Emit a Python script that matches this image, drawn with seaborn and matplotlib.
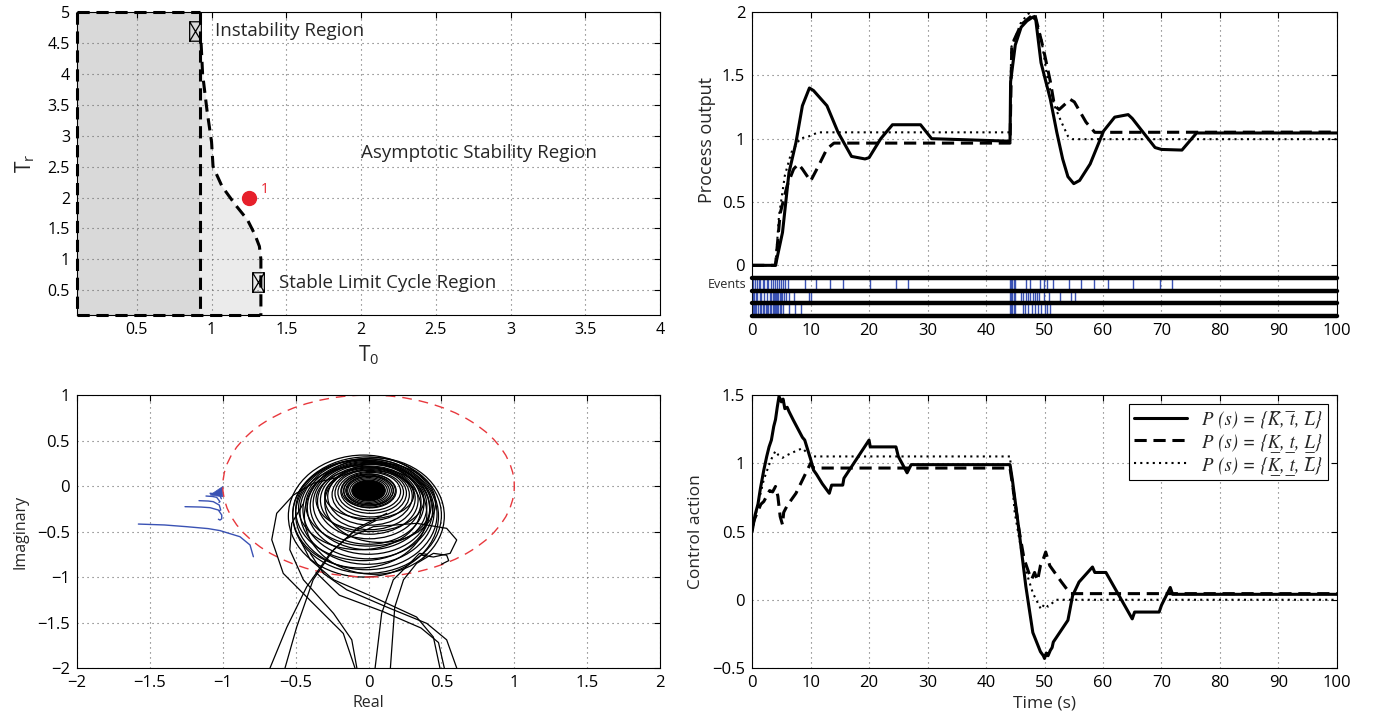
import numpy as np
import pandas as pd
import matplotlib
matplotlib.use("Agg")
import matplotlib.pyplot as plt
import matplotlib.transforms as mtransforms
from matplotlib.patches import Ellipse
from matplotlib.path import Path
import seaborn as sns

# ---------------- data: stability regions (T0, Tr) ----------------
region_tr = [5.0, 4.5, 4.0, 3.4, 2.9, 2.5, 2.18, 1.88, 1.64, 1.4, 1.21, 1.0, 0.1]
region_t0 = [0.925, 0.93, 0.94, 0.97, 1.0, 1.01, 1.07, 1.16, 1.24, 1.29, 1.32, 1.33, 1.33]
unstable_t0_max = 0.92
marker_t0 = [0.89, 1.31]
marker_tr = [4.69, 0.64]
point_t0 = [1.25]
point_tr = [2.0]

# ---------------- data: process output ----------------
y_solid_t = [0, 4.0, 5.2, 6.3, 7.5, 8.6, 9.8, 10.5, 12.8, 14.7, 17, 19.3, 20, 22, 24, 28.8, 30.7, 44.1,
             44.2, 45, 46, 47, 48, 48.5, 49.4, 51, 52.1, 53.1, 54, 55, 56, 57.8, 60.1, 62, 64.3, 65,
             68.9, 70, 73.5, 76, 100]
y_solid = [0, 0, 0.26, 0.73, 0.97, 1.26, 1.40, 1.38, 1.26, 1.05, 0.86, 0.84, 0.85, 1.0, 1.11, 1.11, 1.0, 0.98,
           1.45, 1.74, 1.88, 1.93, 1.96, 1.94, 1.6, 1.31, 1.05, 0.84, 0.7, 0.645, 0.67, 0.8, 1.06, 1.17, 1.19, 1.16,
           0.93, 0.915, 0.91, 1.045, 1.045]
y_dash_t = [0, 4.0, 4.8, 6.0, 7.1, 7.9, 8.6, 10, 11.3, 12.8, 14, 44.1, 44.4, 46, 48.3, 49.8, 51, 51.7, 52.5,
            54.4, 55.1, 57.1, 58.6, 100]
y_dash = [0, 0, 0.41, 0.63, 0.76, 0.80, 0.76, 0.665, 0.78, 0.92, 0.965, 0.965, 1.74, 1.9, 1.99, 1.71, 1.45,
          1.26, 1.23, 1.31, 1.29, 1.13, 1.05, 1.052]
y_dot_t = [0, 4.0, 4.6, 5.6, 6.7, 8.2, 9.8, 11.3, 44.1, 44.3, 46, 47.9, 49.4, 50.6, 51.7, 52.9, 54, 54.8, 100]
y_dot = [0, 0, 0.39, 0.71, 0.89, 1.0, 1.02, 1.05, 1.05, 1.72, 1.92, 2.02, 1.8, 1.45, 1.26, 1.13, 1.02, 0.996,
         0.996]

# events of the three loops
events_1 = [0.2, 0.5, 0.8, 1.1, 1.4, 1.8, 2.1, 2.5, 2.8, 3.2, 3.5, 3.9, 4.2, 4.6, 4.9, 5.3, 5.7, 6.2,
            9.0, 11.0, 13.3, 15.6, 20.2, 24.6, 26.7,
            44.1, 44.3, 44.5, 44.7, 44.9, 46.9, 47.5, 49.3, 49.9, 50.5, 51.5, 54.2, 56.2, 58.4, 60.8,
            65.2, 69.8, 71.8]
events_2 = [0.1, 0.3, 0.6, 0.9, 1.3, 1.6, 2.0, 2.6, 3.0, 3.3, 3.5, 3.7, 3.9, 4.1, 4.3, 4.5, 4.7, 4.9,
            5.1, 5.4, 5.8, 6.3, 7.1, 9.8, 10.1,
            44.1, 44.3, 44.5, 44.7, 44.9, 46.0, 46.4, 46.8, 47.2, 47.6, 48.0, 48.3, 48.7, 49.1, 49.9,
            50.7, 52.7, 54.5, 55.2]
events_3 = [0.1, 0.3, 0.5, 0.7, 1.0, 1.3, 1.5, 1.8, 2.0, 2.3, 2.6, 2.8, 3.1, 3.3, 3.5, 3.7, 3.9, 4.1,
            4.3, 4.5, 4.7, 4.9, 5.3, 6.3, 7.3, 8.3,
            44.1, 44.3, 44.5, 44.7, 44.9, 46.3, 46.7, 47.2, 47.8, 48.3, 48.9, 49.4, 50.0, 50.5, 51.0]
event_rows = [(-0.1, -0.2), (-0.2, -0.3), (-0.3, -0.4)]

# ---------------- data: control action ----------------
u_solid_t = [0, 0.5, 1, 1.4, 2, 2.5, 2.9, 3.3, 3.7, 4.0, 4.3, 4.6, 5, 5.3, 5.6, 6, 6.3, 7, 8.6, 9, 10,
             10.5, 11, 12, 13.2, 13.6, 15.5, 15.7, 20, 20.2, 24.6, 25, 26.5, 27.2, 44.1, 44.5, 45.6,
             46.8, 48, 49.3, 49.8, 50, 50.3, 50.6, 51, 51.3, 51.5, 54, 54.8, 55.9, 58.2, 58.6, 60.5,
             65, 65.4, 69.6, 70, 71.5, 71.9, 100]
u_solid = [0.5, 0.62, 0.7, 0.81, 0.95, 1.05, 1.12, 1.17, 1.27, 1.32, 1.41, 1.49, 1.45, 1.47, 1.40, 1.41,
           1.38, 1.32, 1.19, 1.17, 1.03, 0.95, 0.92, 0.85, 0.78, 0.84, 0.84, 0.89, 1.17, 1.12, 1.12, 1.05,
           0.93, 0.99, 0.99, 0.88, 0.52, 0.10, -0.24, -0.38, -0.41, -0.43, -0.39, -0.41, -0.37, -0.35,
           -0.31, -0.15, 0.03, 0.13, 0.24, 0.2, 0.2, -0.14, -0.09, -0.09, -0.04, 0.09, 0.04, 0.04]
u_dash_t = [0, 0.5, 1, 1.5, 2, 2.5, 3, 3.5, 4, 4.4, 4.8, 5.2, 5.4, 6, 7.5, 10, 10.5, 44.1, 44.5, 45.6,
            46.5, 47.3, 47.8, 48.3, 48.8, 49.3, 49.8, 50.2, 50.9, 52.9, 54.4, 100]
u_dash = [0.54, 0.6, 0.65, 0.7, 0.72, 0.76, 0.8, 0.79, 0.83, 0.76, 0.61, 0.55, 0.64, 0.69, 0.78, 1.0,
          0.965, 0.965, 0.85, 0.52, 0.3, 0.2, 0.15, 0.2, 0.14, 0.25, 0.3, 0.35, 0.25, 0.13, 0.045, 0.045]
u_dot_t = [0, 1, 2, 3, 3.5, 4, 4.5, 5.2, 6, 7.5, 8.6, 10, 44.1, 44.9, 46.4, 48, 49.4, 50, 50.6, 52, 100]
u_dot = [0.5, 0.7, 0.88, 1.0, 1.05, 1.09, 1.06, 1.04, 1.06, 1.09, 1.11, 1.05, 1.05, 0.64, 0.27, 0.05,
         -0.07, -0.03, -0.05, 0.0, 0.0]

legend_labels = ["P (s) = {K\u0305, t\u0305, L\u0305}",
                 "P (s) = {K\u0332, t\u0332, L\u0332}",
                 "P (s) = {K\u0332, t\u0332, L\u0305}"]

# ---------------- data: Nyquist-like plane ----------------
loop_top = [0.34, 0.32, 0.30, 0.30, 0.28, 0.27, 0.26, 0.25, 0.24, 0.22, 0.21, 0.20, 0.19, 0.18, 0.16,
            0.15, 0.13, 0.11, 0.28, 0.22, 0.25, 0.31, 0.29, 0.24, 0.20, 0.17]
loop_bottom = [-1.00, -0.96, -0.92, -0.86, -0.80, -0.75, -0.70, -0.64, -0.58, -0.53, -0.48, -0.43,
               -0.38, -0.34, -0.30, -0.27, -0.24, -0.21, -0.90, -0.70, -0.62, -0.97, -0.82, -0.66,
               -0.50, -0.36]
loop_left = [-0.55, -0.52, -0.50, -0.47, -0.45, -0.42, -0.40, -0.38, -0.35, -0.33, -0.30, -0.28, -0.25,
             -0.23, -0.21, -0.19, -0.17, -0.15, -0.52, -0.48, -0.30, -0.44, -0.50, -0.43, -0.36, -0.30]
loop_right = [0.48, 0.50, 0.47, 0.45, 0.44, 0.42, 0.40, 0.38, 0.36, 0.34, 0.32, 0.30, 0.28, 0.26, 0.24,
              0.22, 0.19, 0.17, 0.40, 0.36, 0.46, 0.52, 0.42, 0.43, 0.38, 0.31]
core_re, core_im, core_w, core_h = 0.0, -0.05, 0.23, 0.23

tails = [
    ([-0.676, -0.56, -0.424, -0.264, -0.081, 0.125], [-2.0, -1.55, -1.107, -0.74, -0.465, -0.3]),
    ([-0.573, -0.493, -0.38, -0.24, -0.1, 0.05], [-2.0, -1.55, -1.03, -0.70, -0.5, -0.38]),
    ([-0.093, -0.173, -0.38, -0.585, -0.664, -0.63, -0.516, -0.38, -0.2],
     [-2.0, -1.62, -1.29, -0.96, -0.59, -0.30, -0.10, 0.03, 0.1]),
    ([-0.08, -0.115, -0.24, -0.447, -0.54, -0.527, -0.45], [-2.0, -1.69, -1.40, -1.03, -0.70, -0.41, -0.2]),
    ([0.045, 0.09, 0.17, 0.307, 0.35, 0.40, 0.37], [-2.0, -1.40, -1.03, -0.81, -0.74, -0.75, -0.8]),
    ([0.15, 0.18, 0.24, 0.33, 0.445, 0.536, 0.55, 0.5], [-2.0, -1.33, -1.03, -0.85, -0.74, -0.76, -0.82, -0.86]),
    ([0.49, 0.445, 0.33, 0.033, -0.24, -0.40, -0.47], [-2.0, -1.66, -1.44, -1.22, -1.03, -0.81, -0.59]),
    ([0.605, 0.536, 0.40, 0.125, -0.15, -0.31, -0.40], [-2.0, -1.69, -1.51, -1.33, -1.14, -0.96, -0.74]),
    ([0.52, 0.48, 0.36, 0.1, -0.2, -0.36], [-2.0, -1.72, -1.56, -1.38, -1.2, -0.95]),
    ([-0.173, 0.033, 0.33, 0.536, 0.605, 0.56, 0.445, 0.365],
     [-0.593, -0.447, -0.41, -0.465, -0.593, -0.74, -0.78, -0.76]),
]
blue_curves = [
    ([-1.579, -1.40, -1.247, -1.10, -1.019, -0.882, -0.813, -0.79],
     [-0.418, -0.428, -0.447, -0.468, -0.49, -0.557, -0.648, -0.777]),
    ([-1.259, -1.15, -1.087, -1.03, -1.007, -1.007, -1.019, -1.03],
     [-0.227, -0.231, -0.238, -0.264, -0.319, -0.36, -0.374, -0.365]),
    ([-1.163, -1.10, -1.065, -1.024, -1.014, -1.024], [-0.161, -0.165, -0.172, -0.209, -0.264, -0.27]),
    ([-1.115, -1.07, -1.042, -1.019, -1.026], [-0.11, -0.115, -0.124, -0.172, -0.18]),
    ([-1.087, -1.05, -1.02, -1.01], [-0.08, -0.085, -0.1, -0.14]),
]
blue_tip_re = [-1.087, -1.0, -1.0]
blue_tip_im = [-0.099, -0.005, -0.118]

# ---------------- style ----------------
sns.set_style("white")
plt.rcParams['font.family'] = ['Open Sans', 'DejaVu Sans']
plt.rcParams['mathtext.default'] = 'regular'
plt.rcParams['axes.edgecolor'] = 'black'
plt.rcParams['axes.linewidth'] = 0.8
plt.rcParams['xtick.color'] = 'black'
plt.rcParams['ytick.color'] = 'black'

fig = plt.figure(figsize=(13.8, 7.19), dpi=100)
ax_reg = fig.add_axes([0.0558, 0.5619, 0.4225, 0.4214])
ax_out = fig.add_axes([0.545, 0.5605, 0.4238, 0.4228])
ax_nyq = fig.add_axes([0.0558, 0.0709, 0.4225, 0.3797])
ax_u = fig.add_axes([0.545, 0.0709, 0.4238, 0.3797])


def matlab_axes(ax, fs=11.5):
    ax.grid(True, linestyle=(0, (1, 3.5)), color='#666666', linewidth=0.8)
    ax.tick_params(direction='in', top=True, right=True, length=4, width=0.8, labelsize=fs, pad=5)
    for s in ax.spines.values():
        s.set_visible(True)
        s.set_color('black')


def plot_line(ax, x, y, style, lw, color='black'):
    df = pd.DataFrame({'x': x, 'y': y})
    sns.lineplot(data=df, x='x', y='y', ax=ax, color=color, linewidth=lw, linestyle=style,
                 estimator=None, sort=False)


# ---- top left
ax = ax_reg
ax.fill_betweenx([0.1, 5.0], 0.1, unstable_t0_max, color='#d9d9d9', zorder=0.2, lw=0)
ax.fill_betweenx(region_tr, unstable_t0_max, region_t0, color='#ebebeb', zorder=0.2, lw=0)
dash = (0, (4, 2.2))
plot_line(ax, region_t0[1:], region_tr[1:], dash, 2.2)
ax.plot([unstable_t0_max, unstable_t0_max], [5.0, 0.1], color='black', lw=2.2, ls=dash)
ax.plot([0.1, unstable_t0_max], [5.0, 5.0], color='black', lw=2.2, ls=dash, clip_on=False)
ax.plot([0.1, 0.1], [5.0, 0.1], color='black', lw=2.2, ls=dash, clip_on=False)
ax.plot([0.1, region_t0[-1]], [0.1, 0.1], color='black', lw=2.2, ls=dash, clip_on=False)
box_x = Path([(-0.6, -1), (0.6, -1), (0.6, 1), (-0.6, 1), (-0.6, -1), (0.6, 1), (-0.6, 1), (0.6, -1)],
             [Path.MOVETO, Path.LINETO, Path.LINETO, Path.LINETO, Path.LINETO, Path.LINETO, Path.MOVETO,
              Path.LINETO])
ax.plot(marker_t0, marker_tr, ls='none', marker=box_x, ms=14, mfc='none', mec='black', mew=0.9, zorder=5)
ax.plot(point_t0, point_tr, ls='none', marker='o', ms=10, color='#e6202b', zorder=5)
ax.text(point_t0[0] + 0.08, point_tr[0] + 0.07, "1", color='#e6202b', fontsize=10)
ax.text(1.02, 4.69, "Instability Region", fontsize=13.5, va='center')
ax.text(2.0, 2.72, "Asymptotic Stability Region", fontsize=13.5, va='center')
ax.text(1.45, 0.62, "Stable Limit Cycle Region", fontsize=13.5, va='center')
ax.set_xlim(0.1, 4)
ax.set_ylim(0.1, 5)
ax.set_xticks([0.5, 1, 1.5, 2, 2.5, 3, 3.5, 4])
ax.set_xticklabels(["0.5", "1", "1.5", "2", "2.5", "3", "3.5", "4"])
ax.set_yticks([0.5, 1, 1.5, 2, 2.5, 3, 3.5, 4, 4.5, 5])
ax.set_yticklabels(["0.5", "1", "1.5", "2", "2.5", "3", "3.5", "4", "4.5", "5"])
matlab_axes(ax)
ax.set_xlabel(r"$T_0$", fontsize=15, labelpad=4)
ax.set_ylabel(r"$T_r$", fontsize=15, labelpad=8)

# ---- top right
ax = ax_out
plot_line(ax, y_dot_t, y_dot, (0, (1, 2)), 1.5)
plot_line(ax, y_dash_t, y_dash, (0, (4, 2.2)), 2.2)
plot_line(ax, y_solid_t, y_solid, '-', 2.2)
for times, (top, bot) in zip([events_1, events_2, events_3], event_rows):
    ax.vlines(times, bot, top, color='#3a52b4', lw=1.0, zorder=3)
for yl in [-0.1, -0.2, -0.3, -0.4]:
    ax.axhline(yl, color='black', lw=3.2, zorder=4, clip_on=False)
ax.set_xlim(0, 100)
ax.set_ylim(-0.4, 2)
ax.set_xticks(range(0, 101, 10))
ax.set_xticklabels([str(v) for v in range(0, 101, 10)])
ax.set_yticks([0, 0.5, 1, 1.5, 2])
ax.set_yticklabels(["0", "0.5", "1", "1.5", "2"])
matlab_axes(ax, fs=12)
trans = mtransforms.blended_transform_factory(ax.transAxes, ax.transData)
ax.text(-0.01, -0.15, "Events", transform=trans, ha='right', va='center', fontsize=9)
ax.set_xlabel("")
ax.set_ylabel("Process output", fontsize=13, labelpad=10)
ax.yaxis.set_label_coords(-0.062, 0.58)

# ---- bottom left
ax = ax_nyq
for t, b, l, r in zip(loop_top, loop_bottom, loop_left, loop_right):
    ax.add_patch(Ellipse(((l + r) / 2, (t + b) / 2), r - l, t - b, fill=False, ec='black', lw=0.9))
for k in range(6):
    ax.add_patch(Ellipse((core_re, core_im), core_w * (1 + 0.12 * k), core_h * (1 + 0.12 * k),
                         fill=(k == 0), fc='black', ec='black', lw=0.9))
for re, im in tails:
    plot_line(ax, re, im, '-', 0.9)
for re, im in blue_curves:
    plot_line(ax, re, im, '-', 1.0, color='#3a52b4')
ax.fill(blue_tip_re, blue_tip_im, color='#3a52b4', lw=0.5)
ax.add_patch(Ellipse((0, 0), 2, 2, fill=False, ec='#e8383d', lw=1.0, ls=(0, (7, 5))))
ax.set_xlim(-2, 2)
ax.set_ylim(-2, 1)
ax.set_xticks([-2, -1.5, -1, -0.5, 0, 0.5, 1, 1.5, 2])
ax.set_xticklabels(["\u22122", "\u22121.5", "\u22121", "\u22120.5", "0", "0.5", "1", "1.5", "2"])
ax.set_yticks([-2, -1.5, -1, -0.5, 0, 0.5, 1])
ax.set_yticklabels(["\u22122", "\u22121.5", "\u22121", "\u22120.5", "0", "0.5", "1"])
matlab_axes(ax, fs=12)
ax.set_xlabel("Real", fontsize=11.5, labelpad=3)
ax.set_ylabel("Imaginary", fontsize=11.5, labelpad=6)

# ---- bottom right
ax = ax_u
plot_line(ax, u_solid_t, u_solid, '-', 2.2)
plot_line(ax, u_dash_t, u_dash, (0, (4, 2.2)), 2.2)
plot_line(ax, u_dot_t, u_dot, (0, (1, 2)), 1.5)
ax.set_xlim(0, 100)
ax.set_ylim(-0.5, 1.5)
ax.set_xticks(range(0, 101, 10))
ax.set_xticklabels([str(v) for v in range(0, 101, 10)])
ax.set_yticks([-0.5, 0, 0.5, 1, 1.5])
ax.set_yticklabels(["\u22120.5", "0", "0.5", "1", "1.5"])
matlab_axes(ax, fs=12)
ax.set_xlabel("Time (s)", fontsize=12.5, labelpad=3)
ax.set_ylabel("Control action", fontsize=12.5, labelpad=6)
handles = ax.get_lines()[:3]
leg = ax.legend(handles, legend_labels, loc='upper right', fancybox=False, framealpha=1,
                edgecolor='black', handlelength=2.8, borderpad=0.3, labelspacing=0.2,
                prop={'family': ['STIXGeneral', 'DejaVu Serif'], 'style': 'italic', 'size': 13.5})
leg.get_frame().set_linewidth(0.8)

fig.savefig("out.png", dpi=100)
